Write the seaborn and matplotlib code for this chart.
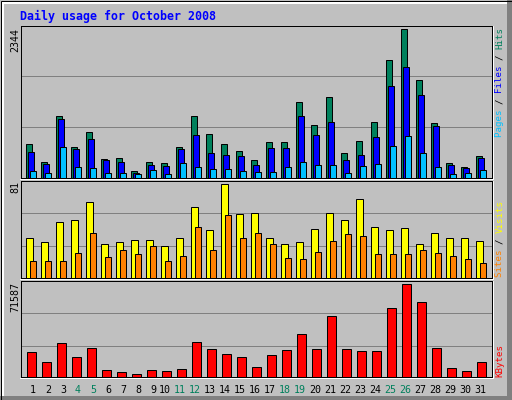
import numpy as np
import pandas as pd
import seaborn as sns
import matplotlib.pyplot as plt
from matplotlib.patches import Rectangle

# data
days = np.arange(1, 32)
hits = [530, 244, 976, 488, 721, 292, 308, 101, 244, 228, 488, 976, 689, 530, 419, 276,
        562, 562, 1199, 833, 1278, 387, 578, 880, 1851, 2344, 1549, 864, 228, 164, 339]
files = [403, 212, 928, 451, 610, 276, 244, 69, 196, 180, 451, 674, 387, 355, 339, 196,
         467, 467, 976, 674, 880, 276, 355, 642, 1453, 1755, 1310, 817, 196, 148, 308]
pages = [101, 69, 483, 164, 148, 69, 69, 53, 117, 53, 228, 164, 133, 133, 101, 85,
         85, 164, 244, 196, 196, 69, 180, 212, 499, 658, 387, 164, 53, 69, 117]
visits = [34, 31, 48, 50, 66, 29, 31, 33, 33, 27, 34, 61, 41, 81, 55, 56,
          34, 29, 31, 42, 56, 50, 68, 44, 41, 43, 29, 39, 34, 34, 32]
sites = [14, 14, 14, 21, 39, 18, 24, 20, 27, 14, 19, 44, 24, 54, 34, 39,
         29, 17, 16, 22, 32, 38, 36, 20, 20, 20, 24, 21, 19, 16, 13]
kbytes = [19072, 11234, 26127, 15154, 22208, 4964, 3396, 1829, 4964, 4180, 5748, 26911,
          21424, 17505, 15154, 7316, 16721, 20640, 33181, 21424, 47290, 21424, 19856,
          19856, 53560, 71587, 57479, 22208, 6532, 4180, 11234]
weekend = [4, 5, 11, 12, 18, 19, 25, 26]
max_labels = ["2344", "81", "71587"]
title = "Daily usage for October 2008"

GREY, DKGREY = "#C0C0C0", "#808080"
GREEN, BLUE, CYAN = "#00805C", "#0000FF", "#00C0FF"
YELLOW, ORANGE, RED = "#FFFF00", "#FF8000", "#FF0000"

sns.set_style("white")
plt.rcParams['font.family'] = ['DejaVu Sans Mono']

W, H = 512, 400
fig = plt.figure(figsize=(W / 100, H / 100), dpi=100)
fig.patch.set_facecolor(GREY)

# background layer in pixel coords for the frame
bg = fig.add_axes([0, 0, 1, 1], zorder=-5)
bg.set_xlim(0, W)
bg.set_ylim(H, 0)
bg.axis('off')
bg.add_patch(Rectangle((507, 0), 5, H, color=DKGREY, lw=0))
bg.add_patch(Rectangle((0, 396), W, 4, color=DKGREY, lw=0))
bg.add_patch(Rectangle((1, 1), 506, 3, color='white', lw=0))
bg.add_patch(Rectangle((1, 1), 3, 395, color='white', lw=0))
bg.add_patch(Rectangle((0.5, 0.5), W - 1, H - 1, fill=False, ec='black', lw=0.72))

px = 0.72  # one pixel in points
XL = (0.3, 31.7)


def panel(top, bottom, ymax, grid):
    ax = fig.add_axes([20.5 / W, 1 - bottom / H, 471 / W, (bottom - top) / H])
    ax.set_facecolor(GREY)
    for fr in grid:
        ax.axhline(fr * ymax, color=DKGREY, lw=px, zorder=0.5)
    for s in ax.spines.values():
        s.set_color('black')
        s.set_linewidth(px)
    # white inset edge
    bg.plot([20, 492.5], [bottom + 1, bottom + 1], color='white', lw=px)
    bg.plot([492.5, 492.5], [top, bottom + 1], color='white', lw=px)
    return ax


def bars(ax, offset, vals, width, color):
    sns.barplot(x=days + offset, y=vals, native_scale=True, width=width, color=color,
                saturation=1, edgecolor='black', linewidth=px, errorbar=None, ax=ax)


ax1 = panel(25.5, 177.5, 2404, [0.33, 0.666])
bars(ax1, -0.133, hits, 0.42, GREEN)
bars(ax1, 0.0, files, 0.42, BLUE)
bars(ax1, 0.133, pages, 0.42, CYAN)
ax1.set_ylim(0, 2404)

ax2 = panel(180.5, 277.5, 84.3, [0.322, 0.662])
bars(ax2, -0.1, visits, 0.49, YELLOW)
bars(ax2, 0.133, sites, 0.43, ORANGE)
ax2.set_ylim(0, 84.3)

ax3 = panel(280.5, 376.5, 74537, [0.318, 0.658])
bars(ax3, 0.033, kbytes, 0.63, RED)
ax3.set_ylim(0, 74537)

for ax in (ax1, ax2, ax3):
    ax.set_xlim(*XL)
    ax.set_xticks([])
    ax.set_yticks([])
    ax.set(xlabel='', ylabel='')

fs = 6.6
adv = 0.602 * fs * 100 / 72

# day labels under the bottom panel
for d in days:
    col = GREEN if d in weekend else 'black'
    ax3.text(d + 0.333, -(393 - 376.5) / 96, str(d), transform=ax3.get_xaxis_transform(),
             ha='right', va='baseline', fontsize=7.2, color=col)

# max values on the left
for lab, ytop in zip(max_labels, [28, 181, 282]):
    fig.text(15 / W, 1 - ytop / H, lab, rotation=90, ha='center', va='top',
             fontsize=7.2, color='black')


def side_label(y0, parts):
    k = 0
    for txt, col in parts:
        fig.text(500 / W, 1 - (y0 - k * adv) / H, txt, rotation=90, rotation_mode='anchor',
                 ha='left', va='center', fontsize=fs, color=col)
        k += len(txt)


side_label(137, [("Pages ", CYAN), ("/ ", 'black'), ("Files ", BLUE), ("/ ", 'black'), ("Hits", GREEN)])
side_label(277, [("Sites ", ORANGE), ("/ ", 'black'), ("Visits", YELLOW)])
side_label(377, [("KBytes", RED)])

fig.text(20 / W, 1 - 20 / H, title, fontsize=8.4, fontweight='bold', color=BLUE,
         ha='left', va='baseline')

fig.savefig('out.png', dpi=100, facecolor=GREY)
